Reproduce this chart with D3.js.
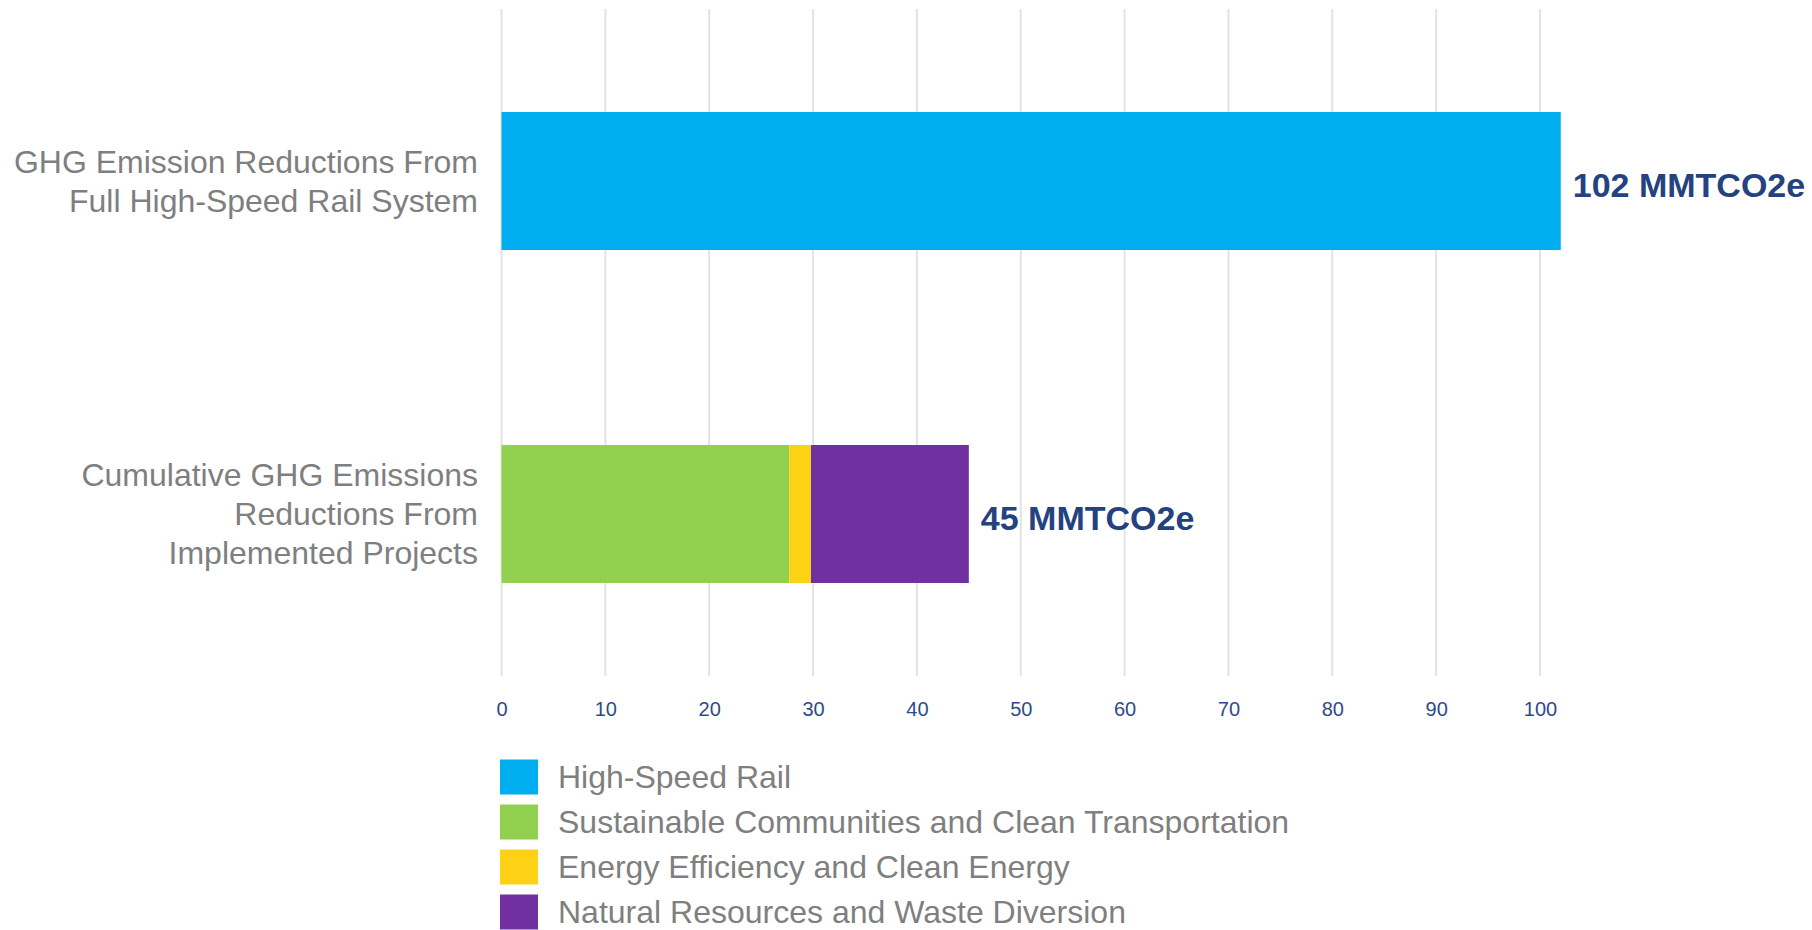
<!DOCTYPE html>
<html>
<head>
<meta charset="utf-8">
<script src="https://cdn.jsdelivr.net/npm/d3@7"></script>
<style>
  html, body { margin: 0; padding: 0; background: #ffffff; }
  svg { display: block; font-family: "Liberation Sans", Arial, sans-serif; }
</style>
</head>
<body>
<svg id="chart" width="1812" height="930"></svg>
<script>
// Categories (one bar each) and their wrapped label lines
const categories = ["hsr-full", "implemented"];
const categoryLines = [
  ["GHG Emission Reductions From", "Full High-Speed Rail System"],
  ["Cumulative GHG Emissions", "Reductions From", "Implemented Projects"]
];

// Series names and colours
const seriesNames = [
  "High-Speed Rail",
  "Sustainable Communities and Clean Transportation",
  "Energy Efficiency and Clean Energy",
  "Natural Resources and Waste Diversion"
];
const seriesColors = ["#00AEEF", "#92D050", "#FCD116", "#7030A0"];

// Values in MMTCO2e, one entry per category
const highSpeedRail = [102, 0];
const sustainableCommunities = [0, 27.7];
const energyEfficiency = [0, 2.1];
const naturalResources = [0, 15.2];

// Axis ticks
const tickValues = [0, 10, 20, 30, 40, 50, 60, 70, 80, 90, 100];
const unitLabel = "MMTCO2e";

const seriesValues = [highSpeedRail, sustainableCommunities, energyEfficiency, naturalResources];
const rows = categories.map((c, i) => {
  const r = { category: c };
  seriesNames.forEach((s, j) => { r[s] = seriesValues[j][i]; });
  return r;
});

const svg = d3.select("#chart");

const x = d3.scaleLinear().domain([0, 100]).range([501.5, 1540]);
const y = d3.scaleBand()
  .domain(categories)
  .range([14, 681])
  .paddingInner(0.5856)
  .paddingOuter(0.2943);

// Vertical gridlines
svg.append("g")
  .selectAll("line")
  .data(tickValues)
  .join("line")
  .attr("x1", d => x(d)).attr("x2", d => x(d))
  .attr("y1", 9).attr("y2", 676)
  .attr("stroke", "#E3E3E3")
  .attr("stroke-width", 2);

// Bottom tick labels
const axis = svg.append("g")
  .attr("transform", "translate(0,702)")
  .call(d3.axisBottom(x).tickValues(tickValues).tickSize(0).tickPadding(0).tickFormat(d3.format("d")));
axis.select(".domain").remove();
axis.selectAll("text")
  .attr("font-family", "Liberation Sans, Arial, sans-serif")
  .attr("font-size", 20)
  .attr("fill", "#2F4A8C");

// Stacked bars
const stack = d3.stack().keys(seriesNames);
const stacked = stack(rows);
const color = d3.scaleOrdinal().domain(seriesNames).range(seriesColors);

svg.append("g")
  .selectAll("g")
  .data(stacked)
  .join("g")
  .attr("fill", d => color(d.key))
  .selectAll("rect")
  .data(d => d.filter(p => p[1] - p[0] > 0))
  .join("rect")
  .attr("x", p => x(p[0]))
  .attr("y", p => y(p.data.category))
  .attr("width", p => x(p[1]) - x(p[0]))
  .attr("height", y.bandwidth());

// Category labels on the left
const catG = svg.append("g");
categories.forEach((c, i) => {
  const lines = categoryLines[i];
  const lh = 39;
  const cy = y(c) + y.bandwidth() / 2;
  const t = catG.append("text")
    .attr("text-anchor", "end")
    .attr("font-size", 32)
    .attr("fill", "#7F7F7F");
  lines.forEach((ln, k) => {
    t.append("tspan")
      .attr("x", 478)
      .attr("y", cy + (k - (lines.length - 1) / 2) * lh)
      .attr("dy", "0.35em")
      .text(ln);
  });
});

// Total labels at the end of each bar
const totals = rows.map(r => d3.sum(seriesNames, s => r[s]));
svg.append("g")
  .selectAll("text")
  .data(categories)
  .join("text")
  .attr("x", (c, i) => x(totals[i]) + 12)
  .attr("y", c => y(c) + y.bandwidth() / 2 + 4)
  .attr("dy", "0.35em")
  .attr("font-size", 34)
  .attr("font-weight", "bold")
  .attr("fill", "#23427F")
  .text((c, i) => `${d3.format(".0f")(totals[i])} ${unitLabel}`);

// Legend
const legend = svg.append("g");
const legendItems = legend.selectAll("g")
  .data(seriesNames)
  .join("g")
  .attr("transform", (d, i) => `translate(500,${777 + i * 45})`);
legendItems.append("rect")
  .attr("x", 0).attr("y", -17.5)
  .attr("width", 38).attr("height", 35)
  .attr("fill", d => color(d));
legendItems.append("text")
  .attr("x", 58)
  .attr("y", 0)
  .attr("dy", "0.35em")
  .attr("font-size", 32)
  .attr("fill", "#7F7F7F")
  .text(d => d);
</script>
</body>
</html>
